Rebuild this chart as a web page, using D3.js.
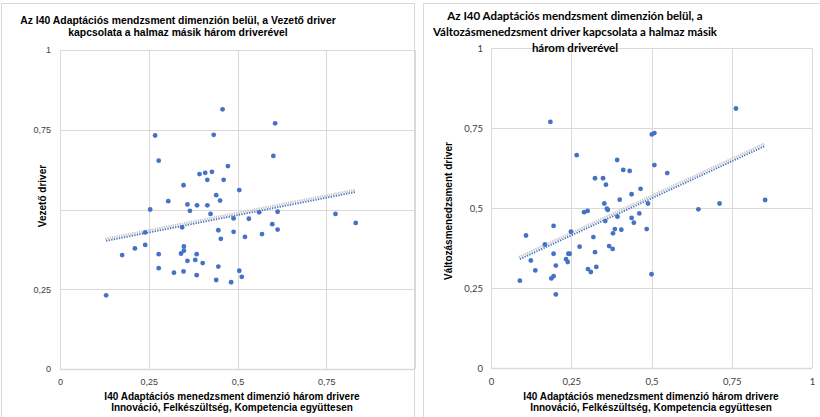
<!DOCTYPE html>
<html><head><meta charset="utf-8">
<script src="https://cdn.jsdelivr.net/npm/d3@7"></script>
<style>
html,body{margin:0;padding:0;background:#fff;}
svg{display:block;}
</style></head>
<body>
<svg id="chart" width="820" height="417"></svg>
<script>
// ---------- DATA ----------
const tickValues = [0, 0.25, 0.5, 0.75, 1];
const tickLabels = ["0", "0,25", "0,5", "0,75", "1"];

// Left chart: Vezető driver vs. the other three drivers together
const vezetoX = [0.458,0.268,0.433,0.278,0.473,0.393,0.409,0.428,0.415,0.461,0.348,0.505,0.440,0.305,0.451,0.359,0.386,0.415,0.254,0.366,0.424,0.489,0.344,0.446,0.606,0.601,0.532,0.561,0.613,0.598,0.613,0.776,0.833,0.240,0.489,0.453,0.175,0.211,0.240,0.278,0.349,0.349,0.341,0.385,0.359,0.381,0.402,0.278,0.321,0.348,0.385,0.446,0.440,0.482,0.505,0.130,0.521,0.569,0.512];
const vezetoY = [0.814,0.732,0.734,0.653,0.636,0.611,0.615,0.618,0.593,0.593,0.576,0.561,0.545,0.526,0.528,0.516,0.513,0.513,0.500,0.496,0.486,0.472,0.444,0.435,0.770,0.668,0.471,0.491,0.493,0.454,0.437,0.486,0.458,0.428,0.430,0.408,0.357,0.378,0.389,0.360,0.384,0.371,0.362,0.360,0.339,0.342,0.332,0.316,0.302,0.306,0.294,0.321,0.279,0.272,0.308,0.231,0.414,0.423,0.289];

// Right chart: Változásmenedzsment driver vs. the other three drivers together
const valtX = [0.185,0.267,0.393,0.412,0.432,0.324,0.349,0.358,0.466,0.438,0.353,0.401,0.361,0.364,0.290,0.301,0.462,0.394,0.438,0.356,0.445,0.386,0.406,0.195,0.763,0.501,0.509,0.509,0.549,0.489,0.646,0.712,0.854,0.485,0.109,0.249,0.168,0.124,0.195,0.241,0.245,0.138,0.202,0.234,0.239,0.090,0.188,0.195,0.202,0.276,0.319,0.302,0.311,0.324,0.328,0.368,0.379,0.380,0.500];
const valtY = [0.769,0.665,0.650,0.619,0.616,0.593,0.593,0.573,0.560,0.543,0.514,0.526,0.498,0.494,0.487,0.491,0.483,0.473,0.469,0.459,0.454,0.434,0.432,0.444,0.811,0.730,0.734,0.634,0.609,0.514,0.496,0.514,0.525,0.434,0.414,0.426,0.386,0.336,0.357,0.357,0.357,0.305,0.320,0.340,0.331,0.273,0.280,0.287,0.230,0.379,0.409,0.309,0.300,0.362,0.316,0.381,0.372,0.421,0.293];

const leftTitle = ["Az I40 Adaptációs  mendzsment dimenzión belül, a Vezető driver", "kapcsolata  a halmaz másik három driverével"];
const rightTitle = ["Az I40 Adaptációs mendzsment dimenzión belül, a", "Változásmenedzsment driver kapcsolata a halmaz másik", "három driverével"];
const xTitle = ["I40 Adaptációs  menedzsment dimenzió három drivere", "Innováció, Felkészültség, Kompetencia  együttesen"];
const leftYTitle = "Vezető driver";
const rightYTitle = "Változásmenedzsment driver";

// ---------- DRAW ----------
const svg = d3.select("#chart");
const ARIAL = "'Liberation Sans', Arial, sans-serif";
const CAL = "Lato, 'Open Sans', sans-serif";

// panel borders
svg.append("rect").attr("x", 1.5).attr("y", 3.5).attr("width", 413).attr("height", 420)
  .attr("fill", "none").attr("stroke", "#d9d9d9");
svg.append("rect").attr("x", 423.5).attr("y", 3.5).attr("width", 420).attr("height", 420)
  .attr("fill", "none").attr("stroke", "#d9d9d9");

function linReg(xs, ys) {
  const n = xs.length, mx = d3.mean(xs), my = d3.mean(ys);
  let sxy = 0, sxx = 0;
  for (let i = 0; i < n; i++) { sxy += (xs[i]-mx)*(ys[i]-my); sxx += (xs[i]-mx)**2; }
  const b = sxy / sxx;
  return { b, a: my - b*mx };
}

function drawChart(o) {
  const g = svg.append("g");
  const x = d3.scaleLinear().domain([0, 1]).range(o.xr);
  const y = d3.scaleLinear().domain([0, 1]).range(o.yr);

  // gridlines
  g.append("g").selectAll("line.h").data(tickValues).join("line")
    .attr("x1", x(0)).attr("x2", x(1))
    .attr("y1", d => Math.round(y(d)) + 0.5).attr("y2", d => Math.round(y(d)) + 0.5)
    .attr("stroke", "#d9d9d9").attr("stroke-width", d => d === 0 ? 1.5 : 1);
  g.append("g").selectAll("line.v").data(tickValues).join("line")
    .attr("y1", y(0)).attr("y2", y(1))
    .attr("x1", d => Math.round(x(d)) + 0.5).attr("x2", d => Math.round(x(d)) + 0.5)
    .attr("stroke", "#d9d9d9").attr("stroke-width", 1);

  // tick labels via axes (no lines)
  const xAxis = d3.axisBottom(x).tickValues(tickValues).tickFormat((d, i) => tickLabels[i]).tickSize(0).tickPadding(0);
  const xa = g.append("g").attr("transform", `translate(0,${o.xLabelY})`).call(xAxis);
  xa.select(".domain").remove();
  xa.selectAll("text").attr("font-family", o.tickFont).attr("font-size", o.tickSize).attr("fill", "#404040").attr("dy", "0.71em");
  if (o.hideXLast) xa.selectAll(".tick").filter(d => d === 1).remove();

  const yAxis = d3.axisLeft(y).tickValues(tickValues).tickFormat((d, i) => tickLabels[i]).tickSize(0).tickPadding(0);
  const ya = g.append("g").attr("transform", `translate(${o.yLabelX},0)`).call(yAxis);
  ya.select(".domain").remove();
  ya.selectAll("text").attr("font-family", o.tickFont).attr("font-size", o.tickSize).attr("fill", "#404040");

  // trendline
  const r = linReg(o.xs, o.ys);
  const x0 = d3.min(o.xs), x1 = d3.max(o.xs);
  const tl = [[x0, r.a + r.b*x0], [x1, r.a + r.b*x1]];
  const line = d3.line().x(d => x(d[0])).y(d => y(d[1]));
  g.append("path").datum(tl).attr("d", line).attr("transform", "translate(-1,-2)")
    .attr("stroke", "#c8c8c8").attr("stroke-width", 2.6).attr("stroke-dasharray", "1.3,1").attr("fill", "none");
  g.append("path").datum(tl).attr("d", line)
    .attr("stroke", "#4472c4").attr("stroke-width", 1.8).attr("stroke-dasharray", "1.3,1.3").attr("fill", "none");

  // points
  g.append("g").selectAll("circle").data(o.xs.map((v, i) => [v, o.ys[i]])).join("circle")
    .attr("cx", d => x(d[0])).attr("cy", d => y(d[1])).attr("r", 2.4)
    .attr("fill", "#4472c4");

  // title
  const t = g.append("text").attr("font-family", o.titleFont).attr("font-size", o.titleSize)
    .attr("font-weight", "bold").attr("fill", "#000").attr("text-anchor", "middle");
  o.title.forEach((s, i) => t.append("tspan").attr("x", o.titleX).attr("y", o.titleY + i*o.titleLH).text(s));

  // x title
  const xt = g.append("text").attr("font-family", ARIAL).attr("font-size", o.xtSize)
    .attr("font-weight", "bold").attr("fill", "#000").attr("text-anchor", "middle");
  xTitle.forEach((s, i) => xt.append("tspan").attr("x", o.xtX).attr("y", o.xtY + i*11).text(s));

  // y title (with white backing box, as in the original)
  const yt = g.append("g").attr("transform", `translate(${o.ytX},${o.ytY}) rotate(-90)`);
  const ytext = yt.append("text").attr("font-family", ARIAL).attr("font-size", o.xtSize).attr("font-weight", "bold")
    .attr("fill", "#000").attr("text-anchor", "middle").text(o.yTitle);
  const bb = ytext.node().getBBox();
  yt.insert("rect", "text").attr("x", bb.x - 3).attr("y", bb.y - 1).attr("width", bb.width + 6).attr("height", bb.height + 6)
    .attr("fill", "#fff");
}

drawChart({
  xs: vezetoX, ys: vezetoY, xr: [60, 415], yr: [369, 50],
  xLabelY: 379, yLabelX: 51, tickFont: ARIAL, tickSize: 9, hideXLast: true,
  title: leftTitle, titleFont: ARIAL, titleSize: 10.4, titleX: 178, titleY: 24, titleLH: 12,
  xtSize: 10, xtX: 232, xtY: 400, ytX: 46, ytY: 196, yTitle: leftYTitle
});
drawChart({
  xs: valtX, ys: valtY, xr: [491, 812], yr: [368, 48],
  xLabelY: 378, yLabelX: 483, tickFont: CAL, tickSize: 9.5, hideXLast: false,
  title: rightTitle, titleFont: CAL, titleSize: 11.5, titleX: 575, titleY: 20, titleLH: 16,
  xtSize: 10, xtX: 651, xtY: 400, ytX: 452, ytY: 211, yTitle: rightYTitle
});
</script>
</body></html>
